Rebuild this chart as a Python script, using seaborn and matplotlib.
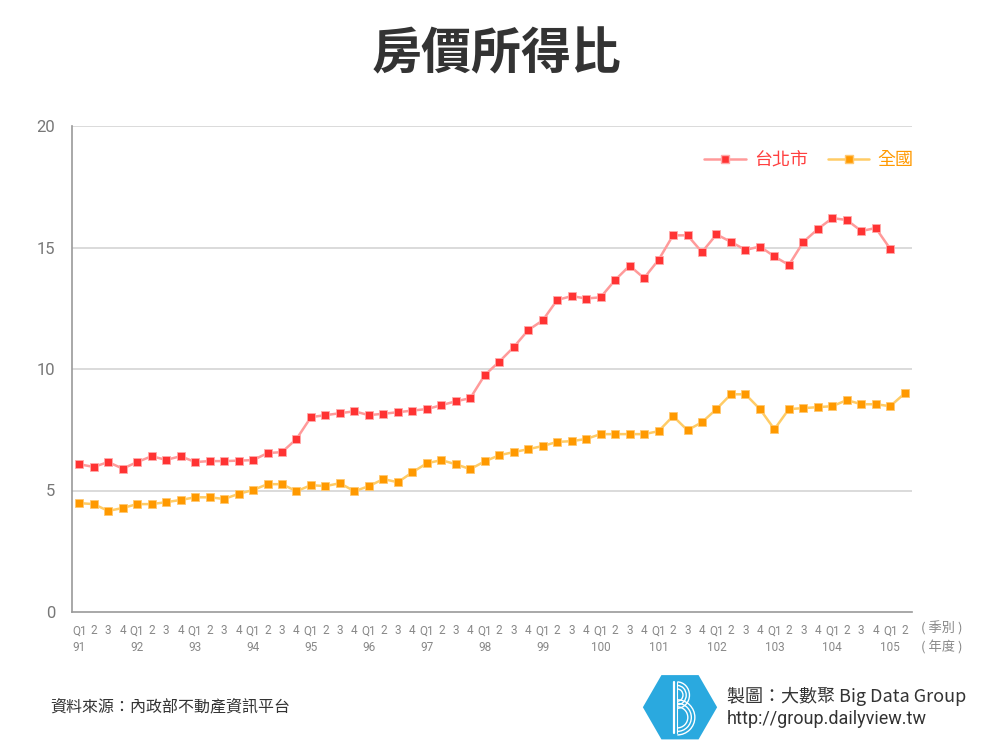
import numpy as np
import pandas as pd
import matplotlib
matplotlib.use("Agg")
import matplotlib.pyplot as plt
from matplotlib.lines import Line2D
from matplotlib.patches import RegularPolygon, Arc
import seaborn as sns

# ---------------- data ----------------
years = ["91", "92", "93", "94", "95", "96", "97", "98", "99", "100",
         "101", "102", "103", "104", "105"]
quarter_names = ["Q1", "2", "3", "4"]

taipei = [6.08, 5.97, 6.17, 5.90, 6.17, 6.41, 6.26, 6.41, 6.17, 6.21, 6.21, 6.23,
          6.25, 6.54, 6.58, 7.12, 8.02, 8.10, 8.18, 8.26, 8.10, 8.16, 8.22, 8.29,
          8.35, 8.51, 8.67, 8.80, 9.75, 10.30, 10.90, 11.60, 12.00, 12.84, 13.00, 12.90,
          12.95, 13.66, 14.25, 13.74, 14.49, 15.50, 15.50, 14.81, 15.54, 15.23, 14.90, 15.04,
          14.63, 14.28, 15.23, 15.76, 16.21, 16.13, 15.68, 15.80, 14.94]
national = [4.48, 4.44, 4.16, 4.28, 4.44, 4.44, 4.52, 4.61, 4.72, 4.72, 4.65, 4.86,
            5.02, 5.26, 5.26, 4.97, 5.22, 5.18, 5.30, 4.97, 5.18, 5.47, 5.34, 5.75,
            6.12, 6.25, 6.08, 5.88, 6.20, 6.45, 6.58, 6.70, 6.83, 7.00, 7.03, 7.12,
            7.32, 7.32, 7.32, 7.32, 7.44, 8.06, 7.48, 7.81, 8.35, 8.96, 8.96, 8.35,
            7.52, 8.35, 8.39, 8.43, 8.47, 8.72, 8.55, 8.55, 8.47, 9.00]
series_names = ["台北市", "全國"]
y_ticks = [0, 5, 10, 15, 20]

n = len(national)
quarter_labels = [quarter_names[i % 4] for i in range(n)]

df_tp = pd.DataFrame({"idx": np.arange(len(taipei)), "val": taipei})
df_nt = pd.DataFrame({"idx": np.arange(n), "val": national})

# ---------------- style ----------------
sns.set_theme(style="white")
plt.rcParams["font.family"] = ["Noto Sans CJK TC", "DejaVu Sans"]

RED_LINE, RED_MK = "#ff9a9a", "#ff3333"
ORG_LINE, ORG_MK = "#ffcc66", "#ff9900"
GRAY_TXT = "#888888"
MS = 5.6

fig = plt.figure(figsize=(10, 7.5), dpi=100)
ax = fig.add_axes([0.072, 0.184, 0.840, 0.648])

sns.lineplot(data=df_tp, x="idx", y="val", ax=ax, color=RED_LINE, lw=1.8,
             marker="s", markersize=MS, markerfacecolor=RED_MK,
             markeredgecolor="#ffaaaa", markeredgewidth=0.6, zorder=3)
sns.lineplot(data=df_nt, x="idx", y="val", ax=ax, color=ORG_LINE, lw=1.8,
             marker="s", markersize=MS, markerfacecolor=ORG_MK,
             markeredgecolor="#ffc870", markeredgewidth=0.6, zorder=3)

ax.set_xlim(-0.5, n - 0.5)
ax.set_ylim(0, 20)
ax.set_yticks(y_ticks)
ax.set_yticklabels([str(v) for v in y_ticks], family=["Roboto", "DejaVu Sans"],
                   fontsize=12, color="#777777")
ax.tick_params(axis="y", length=0, pad=12)

ax.set_xticks(np.arange(n))
ax.set_xticklabels(quarter_labels, family=["Roboto", "DejaVu Sans"],
                   fontsize=8.5, color=GRAY_TXT)
ax.set_xticks(np.arange(n + 1) - 0.5, minor=True)
ax.tick_params(axis="x", which="major", length=0, pad=9)
ax.tick_params(axis="x", which="minor", length=10, width=1, direction="in",
               color="#888888")
ax.set_xlabel("")
ax.set_ylabel("")

for v in y_ticks[1:]:
    ax.axhline(v, color="#d4d4d4", lw=1.2, zorder=1)

for s in ["top", "right"]:
    ax.spines[s].set_visible(False)
ax.spines["left"].set_color("#999999")
ax.spines["bottom"].set_color("#999999")
ax.spines["left"].set_linewidth(1.2)
ax.spines["bottom"].set_linewidth(1.2)

# year labels under each Q1
trans = ax.get_xaxis_transform()
for k, yl in enumerate(years):
    ax.text(4 * k, -0.073, yl, transform=trans, ha="center", va="center",
            fontsize=8.5, color=GRAY_TXT, family=["Roboto", "Noto Sans CJK TC"])
ax.text(1.036, -0.033, "( 季別 )", transform=ax.transAxes, ha="center", va="center",
        fontsize=9.5, color=GRAY_TXT)
ax.text(1.036, -0.074, "( 年度 )", transform=ax.transAxes, ha="center", va="center",
        fontsize=9.5, color=GRAY_TXT)

# legend
handles = [
    Line2D([], [], color=RED_LINE, lw=1.8, marker="s", markersize=MS,
           markerfacecolor=RED_MK, markeredgecolor="#ffaaaa"),
    Line2D([], [], color=ORG_LINE, lw=1.8, marker="s", markersize=MS,
           markerfacecolor=ORG_MK, markeredgecolor="#ffc870"),
]
leg = ax.legend(handles, series_names, loc="center right",
                bbox_to_anchor=(1.021, 0.93), ncol=2, frameon=False,
                fontsize=13, handlelength=2.3, handletextpad=0.45,
                columnspacing=1.1, numpoints=1)
for txt, c in zip(leg.get_texts(), ["#ff4040", "#ff9900"]):
    txt.set_color(c)

# title
fig.text(0.497, 0.927, "房價所得比", ha="center", va="center", fontsize=36,
         weight="black", color="#333333")

# footer
fig.text(0.05, 0.057, "資料來源：內政部不動產資訊平台", ha="left", va="center",
         fontsize=11.5, color="#333333")
fig.text(0.727, 0.071, "製圖：大數聚 Big Data Group", ha="left", va="center",
         fontsize=13, color="#333333")
fig.text(0.727, 0.041, "http://group.dailyview.tw", ha="left", va="center",
         fontsize=13, color="#333333", family=["Roboto", "DejaVu Sans"])

# logo
lax = fig.add_axes([0.640, 0.012, 0.080, 0.090])
lax.set_xlim(-1.15, 1.15)
lax.set_ylim(-1.0, 1.0)
lax.set_aspect("equal")
lax.axis("off")
lax.add_patch(RegularPolygon((0, 0), numVertices=6, radius=1.1,
                             orientation=np.pi / 6, facecolor="#2aa9df",
                             edgecolor="none"))
lax.plot([-0.18, -0.18], [-0.75, 0.75], color="white", lw=1.6)
lax.plot([-0.08, -0.08], [-0.75, 0.75], color="white", lw=0.8)
for r in [0.30, 0.22, 0.14]:
    lax.add_patch(Arc((-0.08, 0.36), 2 * r * 1.2, 2 * r * 1.3, theta1=-90, theta2=90,
                      color="white", lw=1.0))
    lax.add_patch(Arc((-0.08, -0.30), 2 * (r + 0.1) * 1.3, 2 * (r + 0.1) * 1.3,
                      theta1=-90, theta2=90, color="white", lw=1.0))

fig.savefig("out.png", dpi=100, facecolor="white")
